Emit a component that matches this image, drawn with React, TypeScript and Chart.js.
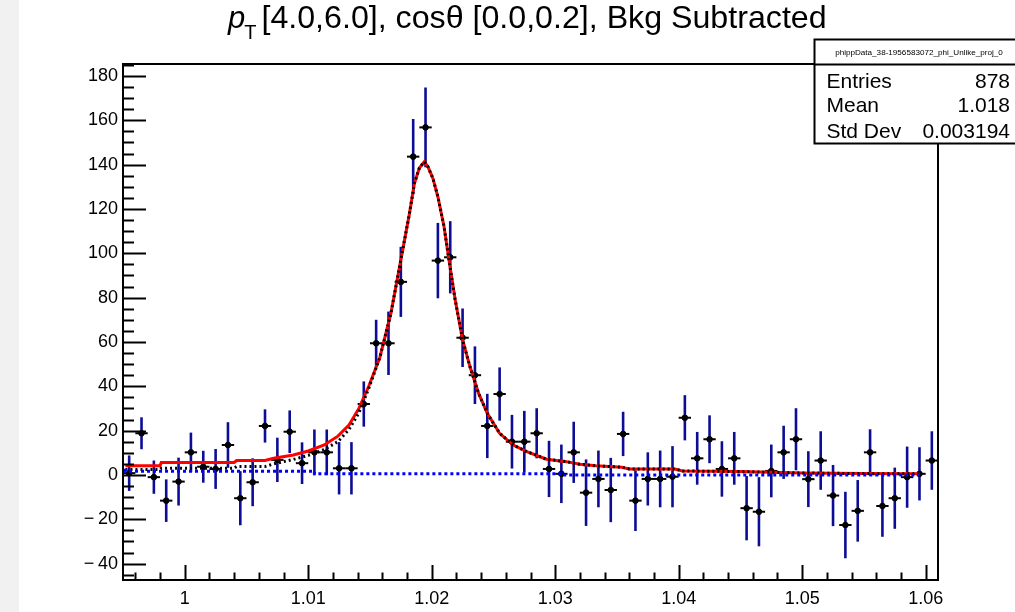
import React, { useEffect, useRef } from "react";
import { Chart, registerables } from "chart.js";

Chart.register(...registerables);

// ---- data ----
const binCenters = [
  0.9955, 0.9965, 0.9975, 0.9985, 0.9995, 1.0005, 1.0015, 1.0025, 1.0035, 1.0045,
  1.0055, 1.0065, 1.0075, 1.0085, 1.0095, 1.0105, 1.0115, 1.0125, 1.0135, 1.0145,
  1.0155, 1.0165, 1.0175, 1.0185, 1.0195, 1.0205, 1.0215, 1.0225, 1.0235, 1.0245,
  1.0255, 1.0265, 1.0275, 1.0285, 1.0295, 1.0305, 1.0315, 1.0325, 1.0335, 1.0345,
  1.0355, 1.0365, 1.0375, 1.0385, 1.0395, 1.0405, 1.0415, 1.0425, 1.0435, 1.0445,
  1.0455, 1.0465, 1.0475, 1.0485, 1.0495, 1.0505, 1.0515, 1.0525, 1.0535, 1.0545,
  1.0555, 1.0565, 1.0575, 1.0585, 1.0595, 1.0605,
];
const counts = [
  0.8, 18.8, -1.0, -11.6, -3.0, 10.2, 3.7, 2.7, 13.5, -10.5,
  -3.3, 22.1, 6.8, 19.5, 5.3, 10.2, 10.2, 3.0, 3.0, 32.0,
  59.4, 59.4, 87.1, 143.6, 156.8, 96.7, 98.2, 61.9, 45.0, 22.1,
  36.5, 15.0, 15.0, 18.8, 2.7, 0.5, 10.2, -8.0, -1.8, -6.8,
  18.5, -11.6, -1.8, -1.8, -0.8, 25.8, 7.5, 16.1, 2.7, 7.5,
  -15.0, -16.6, 1.8, 10.2, 16.1, -1.9, 6.5, -9.3, -22.6, -16.2,
  10.2, -14.0, -10.5, -1.0, 0.5, 6.5,
];
const errors = [
  8.0, 7.2, 7.5, 9.6, 10.8, 8.9, 7.2, 9.0, 10.3, 12.2,
  10.8, 7.5, 10.0, 9.6, 9.4, 10.3, 10.3, 11.8, 11.8, 10.2,
  10.6, 14.3, 15.8, 17.0, 18.0, 17.0, 16.3, 13.2, 13.0, 14.5,
  12.0, 12.1, 13.9, 11.3, 12.7, 13.2, 13.8, 15.0, 12.8, 14.5,
  10.0, 13.7, 12.0, 12.8, 13.8, 10.2, 11.9, 10.8, 12.5, 11.9,
  14.5, 15.6, 11.9, 12.0, 14.0, 12.6, 13.2, 13.8, 15.0, 13.9,
  10.4, 13.9, 13.8, 13.8, 12.0, 13.2,
];
const binHalfWidth = 0.0005;

const fitX = [
  0.9952, 0.998, 0.9981, 1.004, 1.0042, 1.0065, 1.0072, 1.0088, 1.01, 1.0113,
  1.0124, 1.0133, 1.0141, 1.0149, 1.0158, 1.0167, 1.0172, 1.0177, 1.0182, 1.0186,
  1.019, 1.0194, 1.0197, 1.0201, 1.0205, 1.021, 1.0214, 1.0219, 1.0225, 1.0231,
  1.0238, 1.0245, 1.0255, 1.0266, 1.0277, 1.0293, 1.0309, 1.032, 1.0333, 1.0354,
  1.036, 1.0397, 1.0403, 1.045, 1.05, 1.055, 1.0595,
];
const fitY = [
  4.1, 4.1, 5.6, 5.6, 6.5, 6.5, 7.5, 9.0, 10.8, 13.5,
  17.5, 22.5, 30, 40, 53, 73, 88, 103, 118, 131.6,
  138.5, 141.3, 139, 133.8, 125.5, 112, 97, 79, 61, 48.8,
  36.8, 27.8, 18.8, 13.5, 10.5, 7.1, 6.0, 4.8, 4.1, 3.5,
  2.7, 2.7, 1.8, 1.5, 0.9, 0.6, 0.5,
];
const totY = [
  2.5, 2.5, 3.0, 3.0, 3.8, 3.8, 5.0, 7.0, 8.8, 11.5,
  15.0, 20.5, 28, 39, 53, 73, 88, 103, 118, 131.6,
  138.5, 141.3, 139, 133.8, 125.5, 112, 97, 79, 61, 48.8,
  36.8, 27.8, 18.8, 13.5, 10.5, 7.1, 6.0, 4.8, 4.1, 3.5,
  2.7, 2.7, 1.8, 1.5, 0.9, 0.6, 0.5,
];
const bkgX = [0.9952, 1.0105, 1.0305, 1.0505, 1.0595];
const bkgY = [2.8, 1.7, 0.5, 0.0, 0.0];

const xMin = 0.995;
const xMax = 1.061;
const yMin = -47.4;
const yMax = 185.4;
const xTicks = [1, 1.01, 1.02, 1.03, 1.04, 1.05, 1.06];
const xTickLabels = ["1", "1.01", "1.02", "1.03", "1.04", "1.05", "1.06"];
const yTicks = [-40, -20, 0, 20, 40, 60, 80, 100, 120, 140, 160, 180];
const yTickLabels = ["\u2212\u200940", "\u2212\u200920", "0", "20", "40", "60", "80", "100", "120", "140", "160", "180"];

const titleP = "p";
const titleSub = "T";
const titleRest = "[4.0,6.0], cos\u03b8 [0.0,0.2], Bkg Subtracted";
const statsName = "phippData_38-1956583072_phi_Unlike_proj_0";
const statsLabels = ["Entries", "Mean", "Std Dev"];
const statsValues = ["878", "1.018", "0.003194"];

const FONT = '"Liberation Sans", Arial, Helvetica, sans-serif';

const rootPlugin = {
  id: "rootStyle",
  beforeDraw(chart: any) {
    const ctx = chart.ctx;
    ctx.save();
    ctx.fillStyle = "#ffffff";
    ctx.fillRect(0, 0, chart.width, chart.height);
    ctx.fillStyle = "#f1f1f1";
    ctx.fillRect(0, 0, 19, chart.height);
    ctx.restore();
  },
  beforeDatasetsDraw(chart: any) {
    const ctx = chart.ctx;
    const xs = chart.scales.x;
    const ys = chart.scales.y;
    const a = chart.chartArea;
    ctx.save();
    ctx.beginPath();
    ctx.rect(a.left, a.top, a.right - a.left, a.bottom - a.top);
    ctx.clip();
    for (let i = 0; i < binCenters.length; i++) {
      const px = xs.getPixelForValue(binCenters[i]);
      const py = ys.getPixelForValue(counts[i]);
      ctx.strokeStyle = "#0c0c96";
      ctx.lineWidth = 2.6;
      ctx.beginPath();
      ctx.moveTo(px, ys.getPixelForValue(counts[i] + errors[i]));
      ctx.lineTo(px, ys.getPixelForValue(counts[i] - errors[i]));
      ctx.stroke();
      ctx.strokeStyle = "#000000";
      ctx.lineWidth = 2;
      ctx.beginPath();
      ctx.moveTo(xs.getPixelForValue(binCenters[i] - binHalfWidth), py);
      ctx.lineTo(xs.getPixelForValue(binCenters[i] + binHalfWidth), py);
      ctx.stroke();
    }
    ctx.restore();
  },
  afterDatasetsDraw(chart: any) {
    const ctx = chart.ctx;
    const xs = chart.scales.x;
    const ys = chart.scales.y;
    const a = chart.chartArea;
    ctx.save();
    ctx.strokeStyle = "#000000";
    ctx.lineWidth = 2;
    for (let v = -45; v <= yMax; v += 5) {
      const py = Math.round(ys.getPixelForValue(v)) + 0.5;
      const len = v % 20 === 0 ? 23 : 11;
      ctx.beginPath();
      ctx.moveTo(a.left, py);
      ctx.lineTo(a.left + len, py);
      ctx.stroke();
    }
    for (let k = 498; k <= 530; k++) {
      const v = k * 0.002;
      const px = Math.round(xs.getPixelForValue(v)) + 0.5;
      const len = k % 5 === 0 ? 15 : 7.5;
      ctx.beginPath();
      ctx.moveTo(px, a.bottom);
      ctx.lineTo(px, a.bottom - len);
      ctx.stroke();
    }
    ctx.strokeRect(a.left, a.top, a.right - a.left, a.bottom - a.top);
    ctx.restore();
  },
  afterDraw(chart: any) {
    const ctx = chart.ctx;
    ctx.save();
    ctx.fillStyle = "#000";
    ctx.textBaseline = "alphabetic";
    ctx.textAlign = "left";
    let x = 228;
    const base = 28;
    ctx.font = `italic 31px ${FONT}`;
    ctx.fillText(titleP, x, base);
    x += ctx.measureText(titleP).width - 1;
    ctx.font = `20px ${FONT}`;
    ctx.fillText(titleSub, x, base + 11);
    x += ctx.measureText(titleSub).width + 5;
    ctx.font = `10px ${FONT}`;
    const wRest = ctx.measureText(titleRest).width;
    const tfs = (10 * (827 - x)) / wRest;
    ctx.font = `${tfs.toFixed(2)}px ${FONT}`;
    ctx.fillText(titleRest, x, base);

    const bl = 814.5, bt = 39.5, br = 1030, bsep = 64.5, bb = 143.5;
    ctx.fillStyle = "#ffffff";
    ctx.fillRect(bl, bt, br - bl, bb - bt);
    ctx.strokeStyle = "#000";
    ctx.lineWidth = 2;
    ctx.strokeRect(bl, bt, br - bl, bb - bt);
    ctx.beginPath();
    ctx.moveTo(bl, bsep);
    ctx.lineTo(br, bsep);
    ctx.stroke();
    ctx.fillStyle = "#000";
    ctx.font = `10px ${FONT}`;
    const w10 = ctx.measureText(statsName).width;
    const fs = (10 * 168) / w10;
    ctx.font = `${fs.toFixed(2)}px ${FONT}`;
    ctx.textAlign = "center";
    ctx.textBaseline = "middle";
    ctx.fillText(statsName, 919, 53);
    ctx.font = `21px ${FONT}`;
    ctx.textBaseline = "alphabetic";
    const bases = [87.5, 111.5, 137.5];
    for (let i = 0; i < statsLabels.length; i++) {
      ctx.textAlign = "left";
      ctx.fillText(statsLabels[i], 826.5, bases[i]);
      ctx.textAlign = "right";
      ctx.fillText(statsValues[i], 1010, bases[i]);
    }
    ctx.restore();
  },
};

export default function App() {
  const canvasRef = useRef<HTMLCanvasElement | null>(null);

  useEffect(() => {
    if (!canvasRef.current) return;
    const chart = new Chart(canvasRef.current, {
      type: "scatter",
      data: {
        datasets: [
          {
            type: "line",
            label: "bkg",
            data: bkgX.map((v, i) => ({ x: v, y: bkgY[i] })),
            borderColor: "#0000ff",
            borderWidth: 3,
            borderDash: [3, 3],
            stepped: "after",
            pointRadius: 0,
            fill: false,
            order: 1,
          } as any,
          {
            type: "line",
            label: "total",
            data: fitX.map((v, i) => ({ x: v, y: totY[i] })),
            borderColor: "#000000",
            borderWidth: 3,
            borderDash: [2, 3],
            pointRadius: 0,
            fill: false,
            tension: 0,
            order: 2,
          } as any,
          {
            type: "line",
            label: "fit",
            data: fitX.map((v, i) => ({ x: v, y: fitY[i] })),
            borderColor: "#ff0000",
            borderWidth: 3,
            pointRadius: 0,
            fill: false,
            tension: 0,
            order: 3,
          } as any,
          {
            label: "data",
            data: binCenters.map((v, i) => ({ x: v, y: counts[i] })),
            backgroundColor: "#000000",
            borderColor: "#000000",
            pointRadius: 2.8,
            pointStyle: "circle",
            order: 4,
          },
        ],
      },
      options: {
        animation: false,
        responsive: false,
        devicePixelRatio: 1,
        layout: { padding: { left: 0, right: 77, top: 64, bottom: 0 } },
        plugins: {
          legend: { display: false },
          tooltip: { enabled: false },
          title: { display: false },
        },
        scales: {
          x: {
            type: "linear",
            min: xMin,
            max: xMax,
            grid: { display: false, drawTicks: false },
            border: { display: false },
            afterBuildTicks: (s: any) => {
              s.ticks = xTicks.map((v) => ({ value: v }));
            },
            afterFit: (s: any) => {
              s.height = 32;
            },
            ticks: {
              padding: 8,
              autoSkip: false,
              maxRotation: 0,
              color: "#000",
              font: { family: FONT, size: 18 },
              callback: (v: any) => {
                const i = xTicks.findIndex((t) => Math.abs(t - Number(v)) < 1e-9);
                return i >= 0 ? xTickLabels[i] : "";
              },
            },
          },
          y: {
            type: "linear",
            min: yMin,
            max: yMax,
            grid: { display: false, drawTicks: false },
            border: { display: false },
            afterBuildTicks: (s: any) => {
              s.ticks = yTicks.map((v) => ({ value: v }));
            },
            afterFit: (s: any) => {
              s.width = 123;
            },
            ticks: {
              padding: 5,
              autoSkip: false,
              color: "#000",
              font: { family: FONT, size: 18 },
              callback: (v: any) => {
                const i = yTicks.findIndex((t) => Math.abs(t - Number(v)) < 1e-9);
                return i >= 0 ? yTickLabels[i] : "";
              },
            },
          },
        },
      },
      plugins: [rootPlugin],
    });
    return () => chart.destroy();
  }, []);

  return (
    <div style={{ position: "fixed", left: 0, top: 0, width: 1015, height: 612, background: "#fff" }}>
      <canvas ref={canvasRef} width={1015} height={612} style={{ display: "block" }} />
    </div>
  );
}
